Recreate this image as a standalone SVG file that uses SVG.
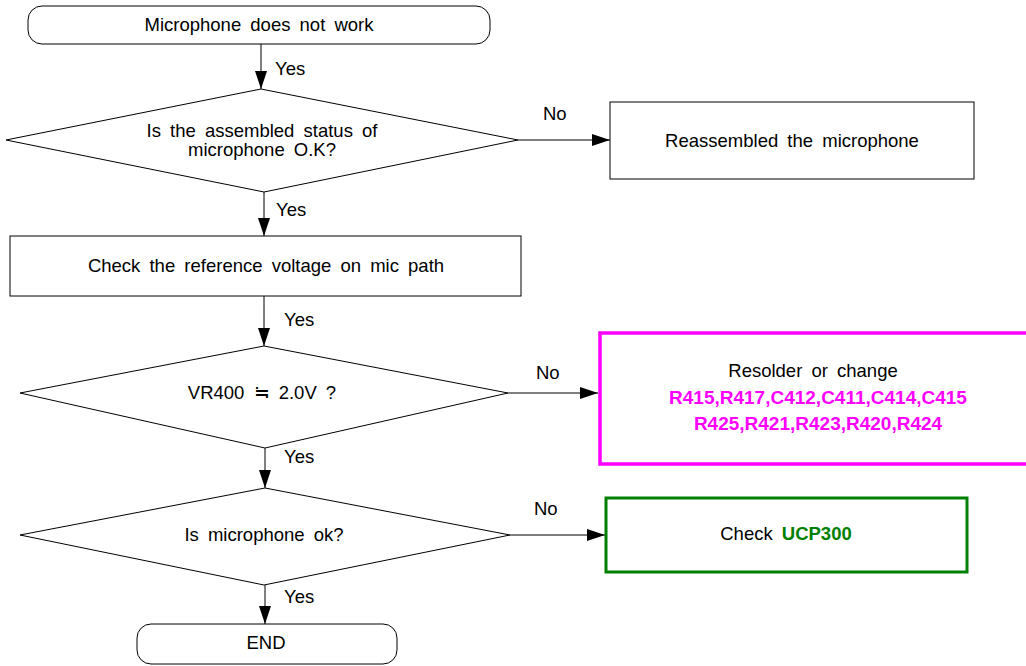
<svg xmlns="http://www.w3.org/2000/svg" width="1026" height="666" viewBox="0 0 1026 666">
<style>
.s{fill:#fff;stroke:#000;stroke-width:1}
.t{font-family:"Liberation Sans",Arial,sans-serif;font-size:18.5px;fill:#000;word-spacing:4px}
.c{text-anchor:middle}
.b{font-weight:bold}
.m{fill:#ff00ff;word-spacing:0;font-size:19px}
.ln{stroke:#000;stroke-width:1;fill:none;marker-end:url(#ah)}
</style>
<defs>
<marker id="ah" viewBox="0 0 18 12" refX="18" refY="6" markerWidth="18" markerHeight="12" markerUnits="userSpaceOnUse" orient="auto">
<path d="M0,0 L18,6 L0,12 Z" fill="#000"/>
</marker>
</defs>
<rect width="1026" height="666" fill="#fff"/>
<g id="connectors">
<line class="ln" x1="261" y1="44" x2="261" y2="89"/>
<line class="ln" x1="518" y1="140" x2="610" y2="140"/>
<line class="ln" x1="264" y1="192" x2="264" y2="236"/>
<line class="ln" x1="264" y1="296" x2="264" y2="346"/>
<line class="ln" x1="508" y1="393" x2="598" y2="393"/>
<line class="ln" x1="265" y1="448" x2="265" y2="488"/>
<line class="ln" x1="510" y1="535" x2="605" y2="535"/>
<line class="ln" x1="265" y1="585" x2="265" y2="624"/>
<text class="t" x="275" y="75">Yes</text>
<text class="t" x="543" y="120">No</text>
<text class="t" x="276" y="216">Yes</text>
<text class="t" x="284" y="326">Yes</text>
<text class="t" x="536" y="379">No</text>
<text class="t" x="284" y="463">Yes</text>
<text class="t" x="534" y="515">No</text>
<text class="t" x="284" y="603">Yes</text>
</g>
<g id="start">
<rect class="s" x="28" y="6" width="462" height="38" rx="14"/>
<text class="t c" x="259" y="31">Microphone does not work</text>
</g>
<g id="d1">
<polygon class="s" points="261,89 518,140 264,192 6,140"/>
<text class="t c" x="262" y="137">Is the assembled status of</text>
<text class="t c" x="262" y="156">microphone O.K?</text>
</g>
<g id="reassemble">
<rect class="s" x="610" y="102" width="364" height="77"/>
<text class="t c" x="792" y="147">Reassembled the microphone</text>
</g>
<g id="checkref">
<rect class="s" x="10" y="236" width="511" height="60"/>
<text class="t c" x="266" y="272">Check the reference voltage on mic path</text>
</g>
<g id="d2">
<polygon class="s" points="264,346 508,393 265,448 20,393"/>
<text class="t c" x="262" y="399">VR400 ≒ 2.0V ?</text>
</g>
<g id="resolder">
<rect x="600" y="333" width="432" height="131" fill="#fff" stroke="#ff00ff" stroke-width="3.5"/>
<text class="t c" x="813" y="377">Resolder or change</text>
<text class="t c b m" x="818" y="404">R415,R417,C412,C411,C414,C415</text>
<text class="t c b m" x="818" y="430">R425,R421,R423,R420,R424</text>
</g>
<g id="d3">
<polygon class="s" points="265,488 510,535 264,585 20,535"/>
<text class="t c" x="264" y="541">Is microphone ok?</text>
</g>
<g id="ucp">
<rect x="606" y="498" width="361" height="74" fill="#fff" stroke="#008000" stroke-width="3"/>
<text class="t c" x="786" y="540">Check <tspan class="b" style="fill:#008000">UCP300</tspan></text>
</g>
<g id="end">
<rect class="s" x="137" y="624" width="260" height="40" rx="14"/>
<text class="t c" x="266" y="649">END</text>
</g>
</svg>
